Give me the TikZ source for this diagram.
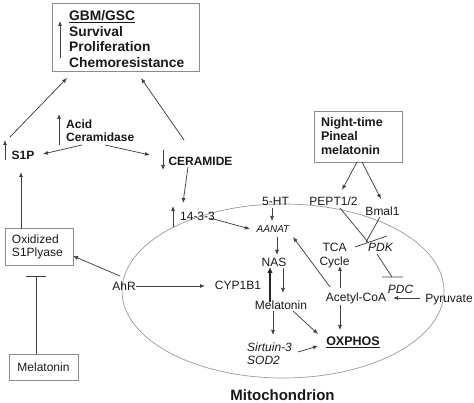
\documentclass[tikz,border=0pt]{standalone}
\usepackage{fontspec}
\setmainfont{Liberation Sans}
\usetikzlibrary{arrows.meta}
\begin{document}
\begin{tikzpicture}[x=1pt,y=-1pt,
  every node/.style={inner sep=0pt, text=black!90},
  lbl/.style={font=\fontsize{12}{13}\selectfont},
  lbli/.style={font=\itshape\fontsize{12}{13}\selectfont},
  bld/.style={font=\bfseries\fontsize{12}{13}\selectfont},
  boxshape/.style={draw=black!45, line width=0.8pt},
  arr/.style={draw=black!75, line width=0.75pt, -{Latex[length=5pt,width=4pt]}},
  thickarr/.style={draw=black!85, line width=2.2pt, -{Latex[length=6pt,width=5.5pt]}},
  plainline/.style={draw=black!75, line width=0.75pt},
]
\useasboundingbox (0,0) rectangle (474,403);

% mitochondrion
\draw[black!40, line width=0.7pt] (283,291) ellipse [x radius=161, y radius=87];
\node[font=\bfseries\fontsize{15}{16}\selectfont, anchor=base] (mito) at (282.5,400.8) {Mitochondrion};

% boxes
\node[boxshape, anchor=north west, minimum width=147pt, minimum height=68pt] (gbm) at (52,3) {};
\node[font=\bfseries\fontsize{13.8}{15.5}\selectfont, align=left, anchor=north west] (gbmtxt) at (69,10.5)
  {\underline{GBM/GSC}\\Survival\\Proliferation\\Chemoresistance};
\node[boxshape, font=\bfseries\fontsize{12.5}{14}\selectfont, align=left, text width=74pt, inner xsep=7pt,
  minimum height=51pt] (night) at (358,136.5) {Night-time\\Pineal\\melatonin};
\node[boxshape, lbl, align=left, text width=54pt, inner xsep=7pt, minimum height=37pt] (oxbox) at (39,246.5)
  {Oxidized\\S1Plyase};
\node[boxshape, lbl, minimum width=69pt, minimum height=26pt] (melbox) at (43.5,367) {Melatonin};

% outer labels
\node[bld, anchor=base] (s1p) at (23,159.5) {S1P};
\node[bld, align=left, anchor=north west] (acid) at (66,119.5) {Acid\\Ceramidase};
\node[bld, anchor=base] (ceramide) at (200.5,165.3) {CERAMIDE};
\node[lbl, anchor=base] (p1433) at (197.5,220.3) {14-3-3};
\node[lbl, anchor=base] (ahr) at (124,290.3) {AhR};
\node[lbl, anchor=base] (cyp) at (238,289.5) {CYP1B1};

% inner labels
\node[lbl, anchor=base] (sht) at (275.5,205.5) {5-HT};
\node[lbl, anchor=base] (pept) at (333.5,205.5) {PEPT1/2};
\node[lbl, anchor=base] (bmal) at (382.5,215.5) {Bmal1};
\node[font=\itshape\fontsize{10}{11}\selectfont, anchor=base] (aanat) at (273,232.6) {AANAT};
\node[lbl, anchor=base] (nas) at (274,266.3) {NAS};
\node[lbl, anchor=base] (melin) at (281,309.3) {Melatonin};
\node[font=\fontsize{12}{14}\selectfont, align=center, anchor=north] (tca) at (334.5,242.7) {TCA\\Cycle};
\node[lbli, anchor=base] (pdk) at (380.5,251.3) {PDK};
\node[lbli, anchor=base] (pdc) at (400.5,293.3) {PDC};
\node[lbl, anchor=base] (acoa) at (356,301.3) {Acetyl-CoA};
\node[lbl, anchor=base] (pyr) at (449,302.3) {Pyruvate};
\node[lbli, align=left, anchor=north west] (sirt) at (247,342.7) {Sirtuin-3\\SOD2};
\node[font=\bfseries\fontsize{12.5}{14}\selectfont, anchor=base] (oxphos) at (353,345.8) {\underline{OXPHOS}};

% connector end points
\coordinate (s1pA) at (10,137);   \coordinate (gbmA) at (67,78);
\coordinate (cerA) at (184,140);  \coordinate (gbmB) at (141,78);
\coordinate (acidA) at (82,145);  \coordinate (s1pB) at (43,154);
\coordinate (acidB) at (105,145); \coordinate (cerB) at (150,155);
\coordinate (cerC) at (188,167);  \coordinate (p14A) at (183,203);
\coordinate (oxA) at (21,229);    \coordinate (s1pC) at (21,172);
\coordinate (ahrA) at (120,276);  \coordinate (oxB) at (73,256);
\coordinate (melA) at (36,354);   \coordinate (oxC) at (36,276);
\coordinate (ahrB) at (136,286);  \coordinate (cypA) at (205,286);
\coordinate (nightA) at (357,162); \coordinate (peptA) at (342,190);
\coordinate (nightB) at (362,162); \coordinate (bmalA) at (381,199);
\coordinate (shtA) at (272,208);  \coordinate (aaA) at (272,221);
\coordinate (p14B) at (210,218);  \coordinate (aaB) at (250,229);
\coordinate (aaC) at (277,237);   \coordinate (nasA) at (277,255);
\coordinate (melB) at (270,302);  \coordinate (nasB) at (270,267);
\coordinate (nasC) at (283,268);  \coordinate (melC) at (283,293);
\coordinate (melD) at (273,311);  \coordinate (sirA) at (273,335);
\coordinate (melE) at (293,311);  \coordinate (oxpA) at (318,334);
\coordinate (sirB) at (298,352);  \coordinate (oxpB) at (318,346);
\coordinate (acA) at (340,305);   \coordinate (oxpC) at (340,330);
\coordinate (acB) at (340,288);   \coordinate (tcaA) at (340,266);
\coordinate (acC) at (330,287);   \coordinate (aaD) at (293,237);
\coordinate (pyrA) at (420,298);  \coordinate (acD) at (393,298);
\coordinate (peptB) at (340,208); \coordinate (bmalB) at (380,217);
\coordinate (pdkX) at (368,242);  \coordinate (pdkY) at (366,242);
\coordinate (pdkA) at (377,254);  \coordinate (pdcA) at (392,277);

% connectors
\draw[arr] (s1pA) -- (gbmA);
\draw[arr] (cerA) -- (gbmB);
\draw[arr] (acidA) -- (s1pB);
\draw[arr] (acidB) -- (cerB);
\draw[arr] (cerC) -- (p14A);
\draw[arr] (oxA) -- (s1pC);
\draw[arr] (ahrA) -- (oxB);
\draw[plainline] (melA) -- (oxC) ++(-10,0) -- ++(20,0);
\draw[arr] (ahrB) -- (cypA);
\draw[arr] (nightA) -- (peptA);
\draw[arr] (nightB) -- (bmalA);
\draw[arr] (shtA) -- (aaA);
\draw[arr] (p14B) -- (aaB);
\draw[arr] (aaC) -- (nasA);
\draw[thickarr] (melB) -- (nasB);
\draw[arr] (nasC) -- (melC);
\draw[arr] (melD) -- (sirA);
\draw[arr] (melE) -- (oxpA);
\draw[arr] (sirB) -- (oxpB);
\draw[arr] (acA) -- (oxpC);
\draw[arr] (acB) -- (tcaA);
\draw[arr] (acC) -- (aaD);
\draw[arr] (pyrA) -- (acD);
\draw[plainline] (peptB) -- (pdkX);
\draw[plainline] (bmalB) -- (pdkY);
\draw[plainline] (355,247) -- (387,236);
\draw[plainline] (pdkA) -- (pdcA) (382,277) -- (403,277);

% up / down indicator arrows
\draw[arr] (60,58) -- (60,21);
\draw[arr] (59,145) -- (59,114);
\draw[arr] (5,160) -- (5,140);
\draw[arr] (163,150) -- (163,170);
\draw[arr] (173,227) -- (173,206);
\end{tikzpicture}
\end{document}
